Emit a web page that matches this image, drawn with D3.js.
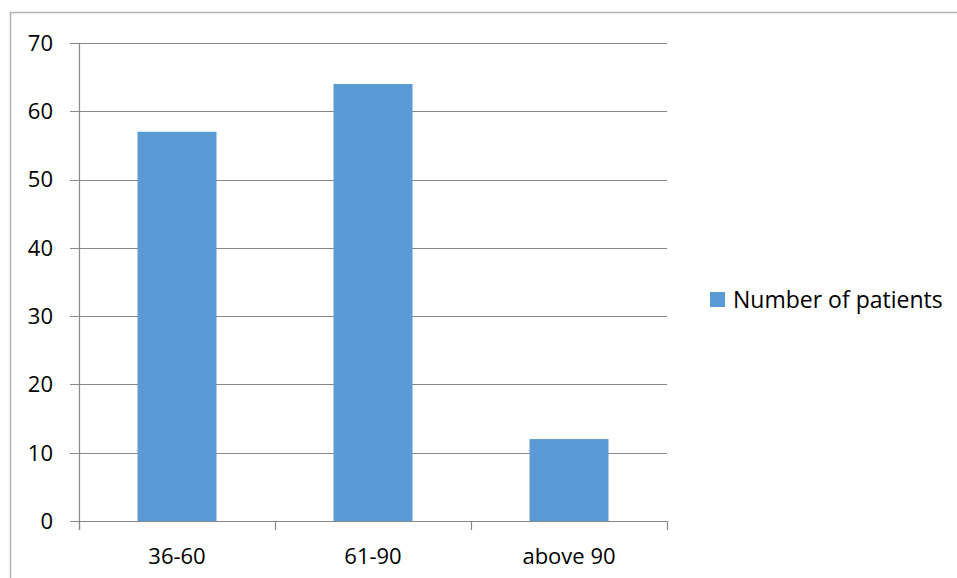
<!DOCTYPE html>
<html>
<head>
<meta charset="utf-8">
<script src="https://cdn.jsdelivr.net/npm/d3@7"></script>
<style>
  body { margin: 0; background: #fff; }
  svg { display: block; }
</style>
</head>
<body>
<svg id="chart" width="957" height="578"></svg>
<script>
// --- data --- //
var categories = ["36-60", "61-90", "above 90"];
var patients = [57, 64, 12];
var yTicks = [0, 10, 20, 30, 40, 50, 60, 70];
var seriesName = "Number of patients";

var width = 957, height = 578;
var svg = d3.select("#chart");
var font = "Open Sans, sans-serif";

// outer chart border (left + top only visible)
svg.append("path")
    .attr("d", "M10.5,578 L10.5,12.5 L957,12.5")
    .attr("fill", "none")
    .attr("stroke", "#b3b3b3")
    .attr("stroke-width", 1.5);

var plot = { left: 79, right: 667, top: 43, bottom: 521 };

var x = d3.scaleBand()
    .domain(categories)
    .range([plot.left, plot.right]);

var y = d3.scaleLinear()
    .domain([0, 70])
    .range([plot.bottom, plot.top]);

// gridlines
svg.append("g").selectAll("line")
    .data(yTicks)
    .enter().append("line")
    .attr("x1", plot.left - 9)
    .attr("x2", plot.right)
    .attr("y1", function(d) { return Math.round(y(d)) + 0.5; })
    .attr("y2", function(d) { return Math.round(y(d)) + 0.5; })
    .attr("stroke", "#888")
    .attr("stroke-width", 1.2);

// bars
var barW = x.bandwidth() * 0.403;
svg.append("g").selectAll("rect")
    .data(patients)
    .enter().append("rect")
    .attr("x", function(d, i) { return x(categories[i]) + x.bandwidth() / 2 - barW / 2; })
    .attr("y", function(d) { return y(d); })
    .attr("width", barW)
    .attr("height", function(d) { return y(0) - y(d); })
    .attr("fill", "#5b9bd5");

// y axis line
svg.append("line")
    .attr("x1", plot.left + 0.5).attr("x2", plot.left + 0.5)
    .attr("y1", plot.top).attr("y2", plot.bottom + 9)
    .attr("stroke", "#888").attr("stroke-width", 1.2);

// x axis tick marks at band boundaries
var xTickPos = categories.map(function(c) { return x(c); }).concat([x.range()[1]]);
svg.append("g").selectAll("line")
    .data(xTickPos)
    .enter().append("line")
    .attr("x1", function(d) { return Math.round(d) + 0.5; })
    .attr("x2", function(d) { return Math.round(d) + 0.5; })
    .attr("y1", plot.bottom)
    .attr("y2", plot.bottom + 9)
    .attr("stroke", "#888").attr("stroke-width", 1.2);

// y tick labels
svg.append("g").selectAll("text")
    .data(yTicks)
    .enter().append("text")
    .attr("x", 53)
    .attr("y", function(d) { return y(d); })
    .attr("dy", "0.36em")
    .attr("text-anchor", "end")
    .attr("font-family", font)
    .attr("font-size", "22px")
    .attr("fill", "#000")
    .text(function(d) { return d; });

// x labels
svg.append("g").selectAll("text")
    .data(categories)
    .enter().append("text")
    .attr("x", function(d) { return x(d) + x.bandwidth() / 2; })
    .attr("y", 564)
    .attr("text-anchor", "middle")
    .attr("font-family", font)
    .attr("font-size", "22px")
    .attr("fill", "#000")
    .text(function(d) { return d; });

// legend
var legend = svg.append("g");
legend.append("rect")
    .attr("x", 710).attr("y", 292)
    .attr("width", 15).attr("height", 15)
    .attr("fill", "#5b9bd5");
legend.append("text")
    .attr("x", 733).attr("y", 300)
    .attr("dy", "0.36em")
    .attr("font-family", font)
    .attr("font-size", "23px")
    .attr("fill", "#000")
    .text(seriesName);
</script>
</body>
</html>
